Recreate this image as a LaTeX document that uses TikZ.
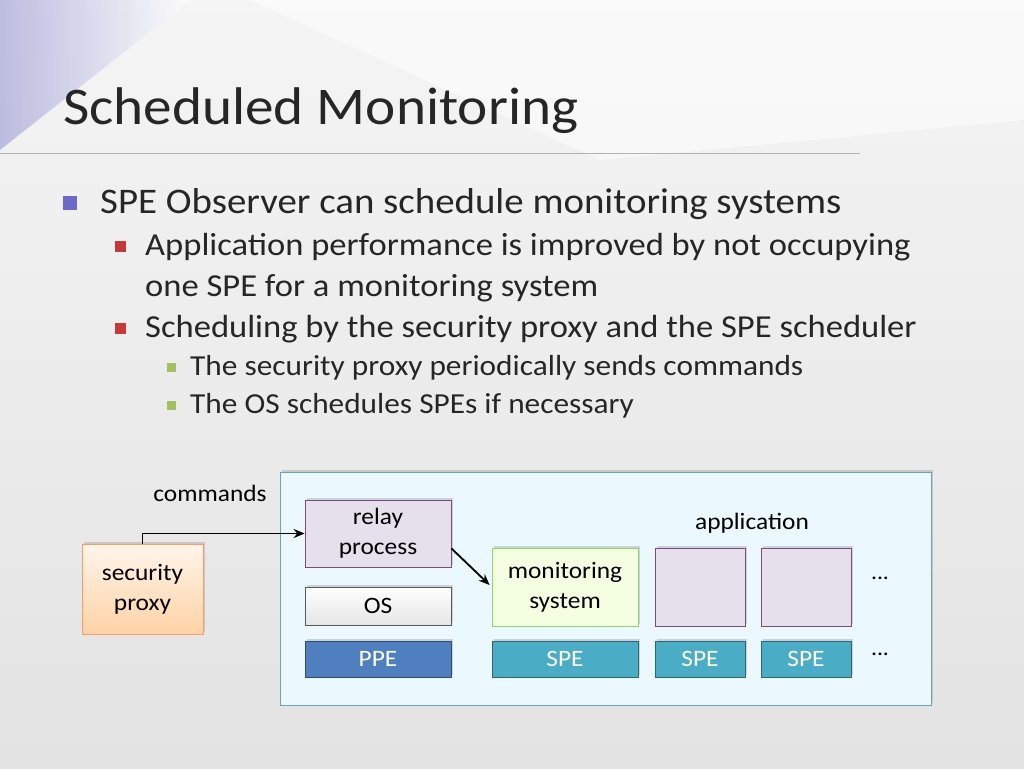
\documentclass[tikz,border=0pt]{standalone}
\usepackage{fontspec}
\setmainfont{Carlito}[FakeStretch=1.08]
\usetikzlibrary{arrows.meta,shadows}
\definecolor{ppe}{HTML}{4F7FBF}
\definecolor{spe}{HTML}{4BACC6}
\definecolor{lav}{HTML}{E6E0EC}
\begin{document}
\begin{tikzpicture}[x=1pt,y=-1pt,
 bx/.style={draw=#1,line width=0.8pt,minimum width=146pt,minimum height=38pt,inner sep=0pt,align=center,font=\fontsize{23.5}{30}\selectfont,drop shadow={opacity=0.3,shadow xshift=2pt,shadow yshift=2pt}},
 bul/.style={minimum size=#1,inner sep=0pt}]
\useasboundingbox (0,0) rectangle (1024,768);
\shade[top color=gray!8,bottom color=gray!22] (0,0) rectangle (1024,768);
\shade[left color=blue!40!gray!50,right color=white,opacity=0.7] (0,0) -- (190,0) -- (0,150) -- cycle;
\fill[white,opacity=0.5] (250,0) -- (1024,0) -- (1024,120) -- (600,160) -- cycle;
\draw[gray!60,line width=0.8pt] (0,153) -- (860,153);
\node[anchor=base west,font=\fontsize{53}{58}\selectfont,text=black!85,inner sep=0pt] (title) at (63,124) {Scheduled Monitoring};
\node[bul=14pt,fill=blue!45!gray!80] (b1) at (70,203) {};
\node[anchor=base west,font=\fontsize{36}{40}\selectfont,text=black!85,inner sep=0pt] (t1) at (100,213) {SPE Observer can schedule monitoring systems};
\node[bul=11pt,fill=red!55!gray] (b2) at (120,246) {};
\node[anchor=base west,font=\fontsize{32}{36}\selectfont,text=black!85,inner sep=0pt] (t2) at (145,255) {Application performance is improved by not occupying};
\node[anchor=base west,font=\fontsize{32}{36}\selectfont,text=black!85,inner sep=0pt] (t2b) at (145,296) {one SPE for a monitoring system};
\node[bul=11pt,fill=red!55!gray] (b3) at (120,328) {};
\node[anchor=base west,font=\fontsize{32}{36}\selectfont,text=black!85,inner sep=0pt] (t3) at (145,337) {Scheduling by the security proxy and the SPE scheduler};
\node[bul=9pt,fill=olive!60!green!60] (b4) at (171,367) {};
\node[anchor=base west,font=\fontsize{29}{32}\selectfont,text=black!85,inner sep=0pt] (t4) at (190,375) {The security proxy periodically sends commands};
\node[bul=9pt,fill=olive!60!green!60] (b5) at (171,405) {};
\node[anchor=base west,font=\fontsize{29}{32}\selectfont,text=black!85,inner sep=0pt] (t5) at (190,413) {The OS schedules SPEs if necessary};
% big box
\draw[draw=cyan!50!gray,fill=cyan!8,line width=0.8pt,drop shadow={opacity=0.3,shadow xshift=2pt,shadow yshift=2pt}] (280,472) rectangle (931,705);
\node[font=\fontsize{23.5}{28}\selectfont] (cmd) at (210,493) {commands};
\node[font=\fontsize{23.5}{28}\selectfont] (app) at (752,523) {application};
\node[bx=orange!70!red!60,top color=orange!8,bottom color=orange!35,minimum width=121pt,minimum height=90pt] (sp) at (142.5,589) {security\\proxy};
\node[bx=violet!40!gray,fill=lav,minimum height=67pt] (relay) at (378,533.5) {relay\\process};
\node[bx=gray!70!black,top color=white,bottom color=gray!20,minimum height=38pt] (os) at (378,606) {OS};
\node[bx=green!50!olive!60,fill=green!40!yellow!12,minimum height=78pt] (mon) at (565,587) {monitoring\\system};
\node[bx=violet!40!gray,fill=lav,minimum width=90pt,minimum height=78pt] (a1) at (700,587) {};
\node[bx=violet!40!gray,fill=lav,minimum width=90pt,minimum height=78pt] (a2) at (806,587) {};
\node[font=\fontsize{22}{25}\selectfont] (d1) at (880,578) {...};
\node[bx=ppe!60!black,fill=ppe,text=white,minimum height=36pt] (ppe) at (378,659) {PPE};
\node[bx=spe!60!black,fill=spe,text=white,minimum height=36pt] (s1) at (565,659) {SPE};
\node[bx=spe!60!black,fill=spe,text=white,minimum width=90pt,minimum height=36pt] (s2) at (700,659) {SPE};
\node[bx=spe!60!black,fill=spe,text=white,minimum width=90pt,minimum height=36pt] (s3) at (806,659) {SPE};
\node[font=\fontsize{22}{25}\selectfont] (d2) at (880,654) {...};
\coordinate (rs) at ([yshift=19pt]relay.south east);
\coordinate (mt) at ([xshift=-2pt,yshift=2pt]mon.west);
\draw[-{Stealth[length=11pt,width=9pt]},line width=1.8pt] (sp.north) |- (relay.west);
\draw[-{Stealth[length=11pt,width=9pt]},line width=1.8pt] (rs) -- (mt);
\end{tikzpicture}
\end{document}
